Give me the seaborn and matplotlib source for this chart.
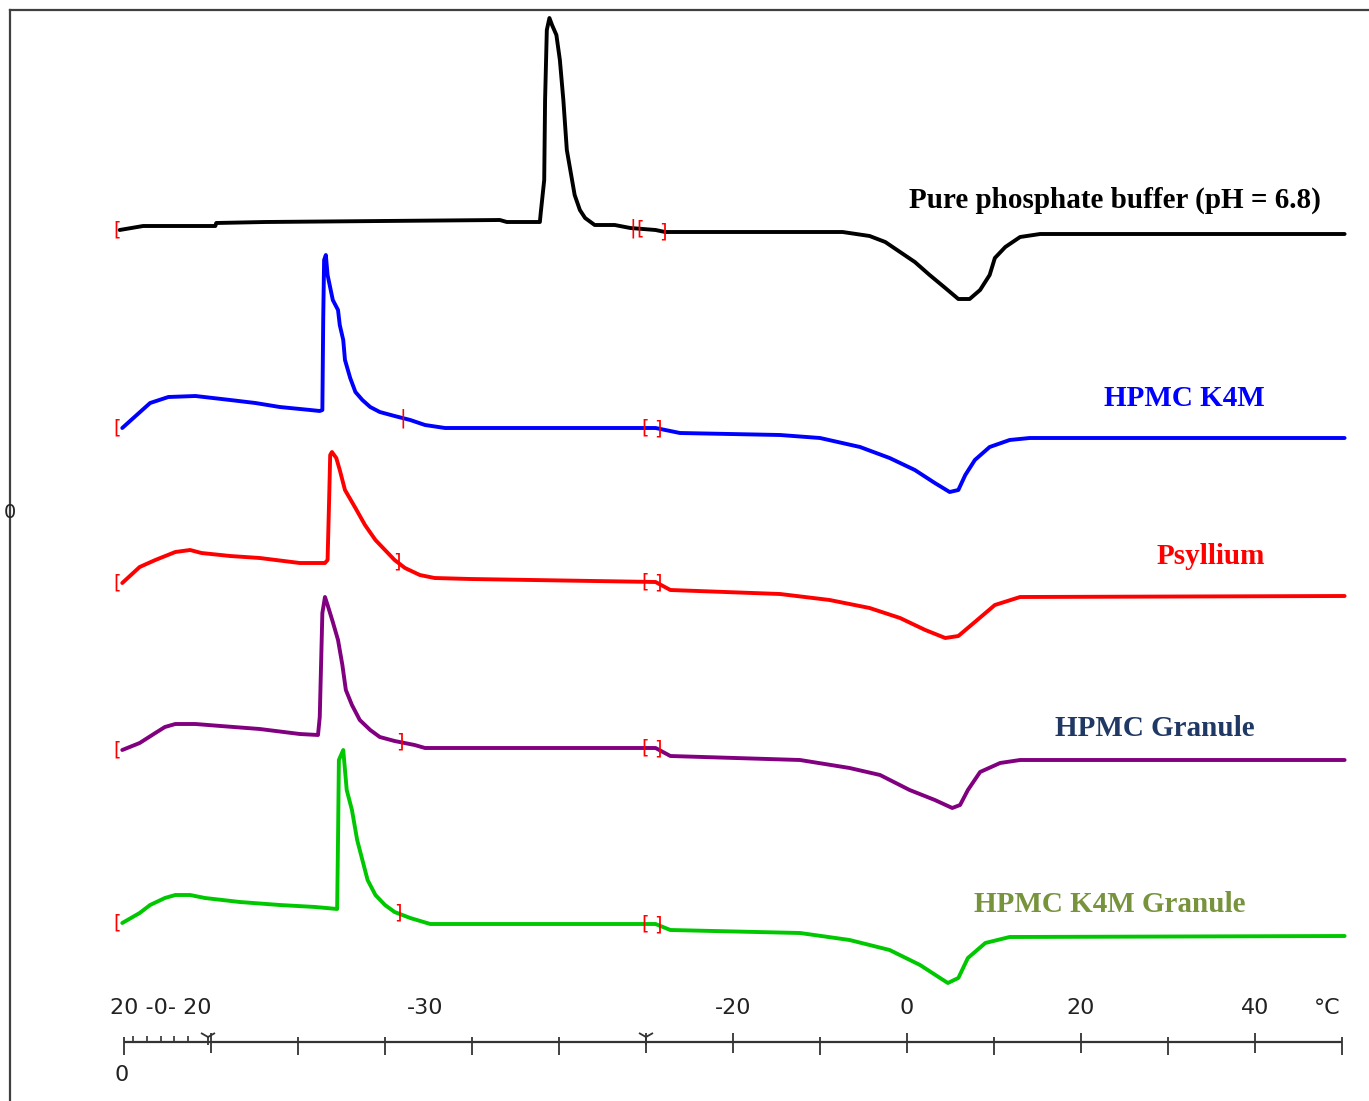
import numpy as np
import pandas as pd
import matplotlib
matplotlib.use("Agg")
import matplotlib.pyplot as plt
import seaborn as sns

# Curvas DSC (eje x en unidades de temperatura del tramo de calentamiento, y en unidades arbitrarias)
buffer_x = [-90.5, -87.8, -79.5, -79.4, -73.8, -46.8, -46.0, -42.2, -42.1, -41.7, -41.6, -41.4, -41.1,
            -40.8, -40.3, -39.9, -39.5, -39.1, -38.7, -38.2, -37.6, -37.0, -35.9, -33.6, -31.8, -28.9,
            -27.8, -7.4, -4.3, -2.5, -0.8, 0.9, 2.6, 4.4, 5.9, 7.2, 8.4, 9.5, 10.1, 11.3, 13.0, 15.3, 50.3]
buffer_y = [8.71, 8.75, 8.75, 8.78, 8.79, 8.81, 8.79, 8.79, 8.88, 9.21, 10.01, 10.71, 10.83,
            10.76, 10.66, 10.41, 10.01, 9.51, 9.31, 9.06, 8.91, 8.83, 8.76, 8.76, 8.73, 8.71,
            8.69, 8.69, 8.65, 8.59, 8.49, 8.39, 8.26, 8.13, 8.02, 8.02, 8.11, 8.26, 8.43, 8.54, 8.64, 8.67, 8.67]

k4m_x = [-90.2, -87.0, -84.9, -81.8, -77.8, -74.9, -72.1, -68.6, -67.5, -67.2, -67.1, -67.0, -66.8,
         -66.6, -66.0, -65.4, -65.2, -64.8, -64.6, -64.0, -63.4, -62.6, -61.7, -60.6, -58.9, -57.1,
         -55.4, -53.1, -28.9, -26.1, -14.6, -10.0, -5.4, -2.0, 0.9, 3.2, 4.9, 5.9, 6.7, 7.8, 9.5,
         11.8, 14.1, 50.3]
k4m_y = [6.73, 6.98, 7.04, 7.05, 7.01, 6.98, 6.94, 6.91, 6.90, 6.91, 7.83, 8.41, 8.46,
         8.26, 8.01, 7.91, 7.76, 7.61, 7.41, 7.23, 7.09, 7.01, 6.94, 6.89, 6.85, 6.81,
         6.76, 6.73, 6.73, 6.68, 6.66, 6.63, 6.54, 6.43, 6.31, 6.18, 6.09, 6.11, 6.26, 6.41, 6.54,
         6.61, 6.63, 6.63]

psyllium_x = [-90.2, -88.2, -86.4, -84.1, -82.4, -81.1, -77.8, -74.4, -69.8, -66.9, -66.6, -66.4,
              -66.3, -66.1, -65.6, -65.2, -64.6, -63.4, -62.3, -61.1, -60.0, -58.9, -57.7, -56.0,
              -54.3, -50.2, -28.9, -27.2, -14.6, -8.9, -4.3, -0.8, 2.1, 4.4, 5.9, 7.8, 10.1, 13.0, 50.3]
psyllium_y = [5.18, 5.34, 5.41, 5.49, 5.51, 5.48, 5.45, 5.43, 5.38, 5.38, 5.41, 6.09,
              6.46, 6.49, 6.43, 6.31, 6.11, 5.93, 5.76, 5.61, 5.51, 5.41, 5.33, 5.26,
              5.23, 5.22, 5.19, 5.11, 5.07, 5.01, 4.93, 4.83, 4.71, 4.63, 4.65, 4.79, 4.96, 5.04, 5.05]

granule_x = [-90.2, -88.2, -86.4, -85.3, -84.1, -81.8, -78.9, -74.4, -69.8, -67.7, -67.5, -67.2,
             -66.9, -66.6, -66.0, -65.4, -64.9, -64.5, -63.8, -62.9, -61.7, -60.6, -58.9, -56.6,
             -55.4, -28.9, -27.2, -12.3, -6.6, -3.1, 0.3, 3.2, 5.2, 6.1, 7.0, 8.4, 10.7, 13.0, 50.3]
granule_y = [3.51, 3.58, 3.68, 3.74, 3.77, 3.77, 3.75, 3.72, 3.67, 3.66, 3.84, 4.88,
             5.04, 4.96, 4.79, 4.61, 4.36, 4.11, 3.96, 3.81, 3.71, 3.64, 3.60, 3.56,
             3.53, 3.53, 3.45, 3.41, 3.33, 3.26, 3.11, 3.01, 2.93, 2.96, 3.11, 3.29, 3.38, 3.41, 3.41]

k4m_granule_x = [-90.2, -88.2, -87.0, -85.3, -84.1, -82.4, -80.7, -76.7, -72.1, -68.0, -65.5, -65.4,
                 -65.3, -64.8, -64.6, -64.4, -63.8, -63.2, -62.6, -62.0, -61.1, -60.0, -58.9, -57.1,
                 -54.8, -28.9, -27.2, -12.3, -6.6, -2.0, 1.5, 3.8, 4.7, 5.9, 7.0, 9.0, 11.8, 50.3]
k4m_granule_y = [1.78, 1.88, 1.96, 2.03, 2.06, 2.06, 2.03, 1.99, 1.96, 1.94, 1.92, 2.61,
                 3.41, 3.51, 3.31, 3.11, 2.91, 2.61, 2.41, 2.21, 2.06, 1.96, 1.89, 1.83,
                 1.77, 1.77, 1.71, 1.68, 1.61, 1.51, 1.36, 1.23, 1.18, 1.23, 1.43, 1.58, 1.64, 1.65]

samples = ["Pure phosphate buffer (pH = 6.8)", "HPMC K4M", "Psyllium", "HPMC Granule", "HPMC K4M Granule"]
line_colors = ["#000000", "#0000FF", "#FF0000", "#800080", "#00C800"]
label_colors = ["#000000", "#0000FF", "#FF0000", "#1F3864", "#77933C"]
label_x = [47.6, 41.1, 41.1, 40.0, 38.9]
label_y = [9.01, 7.03, 5.45, 3.73, 1.96]

# marcas rojas de los limites de integracion
bracket_x = [[-90.8, -31.5, -30.7, -28.0],
             [-90.8, -58.0, -30.1, -28.6],
             [-90.8, -58.6, -30.1, -28.6],
             [-90.8, -58.3, -30.1, -28.6],
             [-90.8, -58.5, -30.1, -28.6]]
bracket_sym = [["[", "|", "[", "]"],
               ["[", "|", "[", "]"],
               ["[", "]", "[", "]"],
               ["[", "]", "[", "]"],
               ["[", "]", "[", "]"]]

# eje de temperatura
tick_pos = list(range(-90, 51, 10))
tick_long = [-80, -30, -20, 0, 20, 40]
tick_labels = ["20 -0- 20", "-30", "-20", "0", "20", "40", "°C"]
tick_label_x = [-85.8, -55.4, -20.0, 0.0, 19.9, 40.0, 48.3]
minor_pos = [-89.0, -87.4, -85.8, -84.2, -82.6]
arrow_pos = [-80.3, -30.0]

xs = [buffer_x, k4m_x, psyllium_x, granule_x, k4m_granule_x]
ys = [buffer_y, k4m_y, psyllium_y, granule_y, k4m_granule_y]

frames = []
for name, x, y in zip(samples, xs, ys):
    frames.append(pd.DataFrame({"T": x, "signal": y, "sample": name, "order": range(len(x))}))
df = pd.concat(frames, ignore_index=True)

sns.set_style("white")
plt.rcParams["font.family"] = ["DejaVu Sans"]

W, H = 1369, 1101
fig = plt.figure(figsize=(W / 100, H / 100), dpi=100)
ax = fig.add_axes([10 / W, 0, (W - 10) / W, (H - 10) / H])

sns.lineplot(data=df, x="T", y="signal", hue="sample", units="sample", estimator=None,
             sort=False, palette=dict(zip(samples, line_colors)), linewidth=2.8,
             legend=False, ax=ax)

ax.set_xlim((10 - 907) / 8.7, (W - 907) / 8.7)
ax.set_ylim(0, (H - 10) / 100)
ax.set_xlabel("")
ax.set_ylabel("")
ax.set_xticks([])
ax.set_yticks([])
for side in ["right", "bottom"]:
    ax.spines[side].set_visible(False)
for side in ["left", "top"]:
    ax.spines[side].set_color("#404040")
    ax.spines[side].set_linewidth(1.6)

# nombres de las muestras
for name, c, lx, ly in zip(samples, label_colors, label_x, label_y):
    ax.text(lx, ly, name, color=c, ha="right", va="center", fontsize=21,
            fontweight="bold", family="Liberation Serif")

# corchetes rojos
for x, y, bx, bs in zip(xs, ys, bracket_x, bracket_sym):
    for px, s in zip(bx, bs):
        ax.text(px, np.interp(px, x, y), s, color="#FF0000", ha="center", va="center",
                fontsize=14, family="DejaVu Sans")

# eje inferior
axis_y = 0.59
ax.plot([tick_pos[0], tick_pos[-1]], [axis_y, axis_y], color="#333333", lw=1.6, solid_capstyle="butt")
for t in tick_pos:
    if t in tick_long:
        ax.vlines(t, axis_y - 0.11, axis_y + 0.09, color="#333333", lw=1.3)
    else:
        ax.vlines(t, axis_y - 0.13, axis_y + 0.05, color="#333333", lw=1.3)
ax.vlines(minor_pos, axis_y, axis_y + 0.06, color="#333333", lw=1.2)
ax.plot(arrow_pos, [axis_y + 0.05] * len(arrow_pos), ls="none", marker="1",
        markersize=12, color="#333333", mew=1.3)
for lab, lx in zip(tick_labels, tick_label_x):
    ax.text(lx, 0.93, lab, ha="center", va="center", fontsize=16, color="#222222")
ax.text(-90.3, 0.26, "0", ha="center", va="center", fontsize=16, color="#222222")
ax.text(-103.1, 5.89, "0", ha="center", va="center", fontsize=14, color="#222222")

fig.savefig("out.png", dpi=100)
